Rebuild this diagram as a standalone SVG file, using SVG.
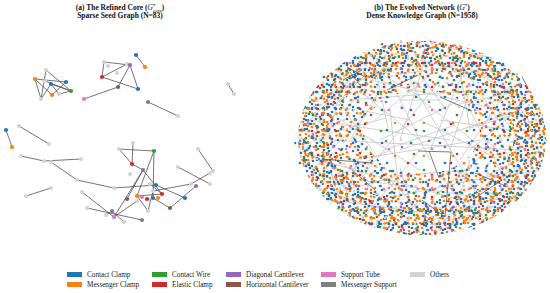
<svg xmlns="http://www.w3.org/2000/svg" width="550" height="293" viewBox="0 0 550 293">
<style>
.t{font-family:"Liberation Serif","Times New Roman",serif;font-weight:bold;font-size:7.5px;fill:#111;text-anchor:middle}
.lg{font-family:"Liberation Serif","Times New Roman",serif;font-size:7.2px;fill:#222}
.cb{fill:#1f77b4}.co{fill:#ff7f0e}.cg{fill:#2ca02c}.cr{fill:#d62728}.cp{fill:#9467bd}.cbr{fill:#8c564b}.cpk{fill:#e377c2}.cgy{fill:#7f7f7f}.cl{fill:#d3d3d3}
.e{stroke:#4a4a4a;stroke-width:0.9;stroke-opacity:0.85}
</style>
<defs>
<pattern id="p1" width="24" height="22" patternUnits="userSpaceOnUse" x="3" y="1">
<circle cx="2" cy="3" r="1.35" class="cb"/><circle cx="9" cy="2" r="1.35" class="co"/><circle cx="15" cy="5" r="1.35" class="cb"/><circle cx="21.5" cy="2.5" r="1.35" class="co"/><circle cx="5" cy="9" r="1.35" class="cl"/><circle cx="12" cy="11" r="1.35" class="co"/><circle cx="19" cy="13" r="1.35" class="cb"/><circle cx="3" cy="16" r="1.35" class="cg"/><circle cx="8" cy="19.5" r="1.35" class="co"/><circle cx="14" cy="18" r="1.35" class="cb"/><circle cx="21" cy="20" r="1.35" class="cr"/><circle cx="17" cy="9" r="1.35" class="cp"/>
</pattern>
<pattern id="p2" width="31" height="27" patternUnits="userSpaceOnUse" x="11" y="7">
<circle cx="3" cy="5" r="1.35" class="co"/><circle cx="10" cy="2" r="1.35" class="cb"/><circle cx="18" cy="7" r="1.35" class="cpk"/><circle cx="26" cy="4" r="1.35" class="cb"/><circle cx="6" cy="13" r="1.35" class="co"/><circle cx="14" cy="15" r="1.35" class="cbr"/><circle cx="22" cy="12" r="1.35" class="co"/><circle cx="28.5" cy="17" r="1.35" class="cb"/><circle cx="2" cy="22" r="1.35" class="cl"/><circle cx="11" cy="24" r="1.35" class="cb"/><circle cx="19" cy="21" r="1.35" class="co"/><circle cx="25" cy="25" r="1.35" class="cl"/>
</pattern>
<pattern id="p3" width="37" height="41" patternUnits="userSpaceOnUse" x="5" y="13">
<circle cx="4" cy="6" r="1.35" class="cb"/><circle cx="15" cy="3" r="1.35" class="co"/><circle cx="27" cy="9" r="1.35" class="cr"/><circle cx="33" cy="2" r="1.35" class="cl"/><circle cx="9" cy="17" r="1.35" class="cg"/><circle cx="21" cy="20" r="1.35" class="cb"/><circle cx="31" cy="23" r="1.35" class="co"/><circle cx="5" cy="30" r="1.35" class="cp"/><circle cx="16" cy="33" r="1.35" class="cbr"/><circle cx="26" cy="36" r="1.35" class="cb"/><circle cx="34" cy="32" r="1.35" class="co"/><circle cx="12" cy="39" r="1.35" class="cpk"/>
</pattern>
<pattern id="p4" width="29" height="33" patternUnits="userSpaceOnUse" x="0" y="4">
<circle cx="5" cy="7" r="1.35" class="cb"/><circle cx="18" cy="20" r="1.35" class="co"/><circle cx="24" cy="4" r="1.35" class="cl"/><circle cx="10" cy="27" r="1.35" class="cb"/>
</pattern>
<pattern id="p5" width="43" height="39" patternUnits="userSpaceOnUse" x="7" y="2">
<circle cx="8" cy="28" r="1.35" class="cp"/><circle cx="30" cy="12" r="1.35" class="cg"/><circle cx="20" cy="35" r="1.35" class="cbr"/><circle cx="38" cy="30" r="1.35" class="cpk"/><circle cx="14" cy="5" r="1.35" class="cr"/><circle cx="35" cy="22" r="1.35" class="cgy"/>
</pattern>
<pattern id="p6" width="19" height="17" patternUnits="userSpaceOnUse" x="2" y="9">
<circle cx="3" cy="3" r="1.35" class="cb"/><circle cx="10" cy="5" r="1.35" class="co"/><circle cx="16" cy="2" r="1.35" class="co"/><circle cx="6" cy="10" r="1.35" class="cb"/><circle cx="14" cy="11" r="1.35" class="cl"/><circle cx="2" cy="15" r="1.35" class="co"/><circle cx="11" cy="15" r="1.35" class="cb"/><circle cx="17" cy="14" r="1.35" class="cg"/>
</pattern>
<pattern id="p7" width="26" height="23" patternUnits="userSpaceOnUse" x="8" y="3">
<circle cx="4" cy="4" r="1.35" class="co"/><circle cx="12" cy="2" r="1.35" class="cb"/><circle cx="20" cy="6" r="1.35" class="co"/><circle cx="24" cy="14" r="1.35" class="cr"/><circle cx="7" cy="12" r="1.35" class="cb"/><circle cx="15" cy="13" r="1.35" class="co"/><circle cx="3" cy="20" r="1.35" class="cp"/><circle cx="19" cy="20" r="1.35" class="cb"/><circle cx="11" cy="21" r="1.35" class="co"/>
</pattern>
<pattern id="p8" width="17" height="21" patternUnits="userSpaceOnUse" x="4" y="6">
<circle cx="3" cy="4" r="1.35" class="co"/><circle cx="11" cy="8" r="1.35" class="cb"/><circle cx="6" cy="15" r="1.35" class="cpk"/><circle cx="14" cy="18" r="1.35" class="cb"/><circle cx="13" cy="2" r="1.35" class="co"/>
</pattern>
<pattern id="p9" width="23" height="29" patternUnits="userSpaceOnUse" x="9" y="12">
<circle cx="4" cy="9" r="1.35" class="cb"/><circle cx="17" cy="3" r="1.35" class="co"/><circle cx="12" cy="18" r="1.35" class="cbr"/><circle cx="20" cy="25" r="1.35" class="co"/><circle cx="3" cy="25" r="1.35" class="cb"/><circle cx="9" cy="2" r="1.35" class="cl"/>
</pattern>
<clipPath id="cAll"><ellipse cx="422" cy="138" rx="124" ry="97"/></clipPath>
<clipPath id="cBig"><ellipse cx="422" cy="138" rx="128" ry="100"/></clipPath>
<clipPath id="cMid"><path clip-rule="evenodd" d="M298,138 a124,97 0 1,0 248,0 a124,97 0 1,0 -248,0 Z M364,132 a58,42 0 1,0 116,0 a58,42 0 1,0 -116,0 Z"/></clipPath>
<clipPath id="cOut"><path clip-rule="evenodd" d="M298,138 a124,97 0 1,0 248,0 a124,97 0 1,0 -248,0 Z M330,136 a92,68 0 1,0 184,0 a92,68 0 1,0 -184,0 Z"/></clipPath>
</defs>
<rect width="550" height="293" fill="#fff"/>

<g id="titles">
<text class="t" x="120" y="9.7">(a) The Refined Core (<tspan font-style="italic" font-weight="normal">G</tspan><tspan font-size="5" dy="-2.6">*</tspan><tspan font-size="5" dx="-2.4" dy="4.4" font-style="italic" font-weight="normal">core</tspan><tspan dy="-1.8">)</tspan></text>
<text class="t" x="120" y="18.3">Sparse Seed Graph (N=83)</text>
<text class="t" x="422" y="9.7">(b) The Evolved Network (<tspan font-style="italic" font-weight="normal">G</tspan><tspan font-size="5" dy="-2.6">*</tspan><tspan dy="2.6">)</tspan></text>
<text class="t" x="422" y="18.3">Dense Knowledge Graph (N=1958)</text>
</g>

<g id="connectors">
<line class="e" x1="46" y1="70" x2="71" y2="91"/><line class="e" x1="46" y1="70" x2="41" y2="99"/><line class="e" x1="35" y1="79" x2="66" y2="82"/><line class="e" x1="35" y1="79" x2="41" y2="99"/><line class="e" x1="35" y1="79" x2="52" y2="95"/><line class="e" x1="45" y1="81" x2="71" y2="91"/><line class="e" x1="51" y1="84" x2="71" y2="91"/><line class="e" x1="51" y1="84" x2="59" y2="94"/><line class="e" x1="66" y1="82" x2="52" y2="95"/><line class="e" x1="41" y1="99" x2="51" y2="84"/><line class="e" x1="59" y1="94" x2="71" y2="91"/>
<line class="e" x1="104" y1="62" x2="130" y2="65"/><line class="e" x1="104" y1="62" x2="102" y2="77"/><line class="e" x1="102" y1="77" x2="127" y2="64"/><line class="e" x1="102" y1="77" x2="138" y2="89"/><line class="e" x1="130" y1="65" x2="118" y2="87"/><line class="e" x1="130" y1="65" x2="138" y2="89"/><line class="e" x1="118" y1="87" x2="84" y2="99"/><line class="e" x1="136" y1="55" x2="145" y2="67"/>
<line class="e" x1="228" y1="84" x2="234" y2="94"/><line class="e" x1="148" y1="102" x2="178" y2="116"/><line class="e" x1="6" y1="130" x2="12" y2="147"/><line class="e" x1="19" y1="126" x2="49" y2="144"/>
<line class="e" x1="21" y1="156" x2="44" y2="161"/><line class="e" x1="44" y1="161" x2="81" y2="159"/><line class="e" x1="51" y1="162" x2="77" y2="180"/><line class="e" x1="77" y1="180" x2="114" y2="188"/><line class="e" x1="26" y1="196" x2="51" y2="188"/>
<line class="e" x1="119" y1="149" x2="154" y2="151"/><line class="e" x1="133" y1="143" x2="132" y2="164"/><line class="e" x1="119" y1="149" x2="132" y2="164"/><line class="e" x1="132" y1="164" x2="143" y2="170"/><line class="e" x1="154" y1="151" x2="137" y2="196"/><line class="e" x1="154" y1="151" x2="153" y2="198"/><line class="e" x1="143" y1="170" x2="127" y2="199"/><line class="e" x1="143" y1="170" x2="162" y2="194"/><line class="e" x1="114" y1="188" x2="156" y2="185"/><line class="e" x1="156" y1="185" x2="185" y2="198"/><line class="e" x1="153" y1="191" x2="191" y2="184"/><line class="e" x1="196" y1="186" x2="170" y2="208"/><line class="e" x1="153" y1="198" x2="170" y2="208"/><line class="e" x1="178" y1="167" x2="210" y2="184"/><line class="e" x1="198" y1="149" x2="213" y2="171"/><line class="e" x1="210" y1="173" x2="191" y2="184"/><line class="e" x1="137" y1="196" x2="162" y2="194"/><line class="e" x1="137" y1="196" x2="148" y2="211"/><line class="e" x1="148" y1="211" x2="153" y2="191"/><line class="e" x1="114" y1="217" x2="137" y2="201"/><line class="e" x1="114" y1="217" x2="143" y2="170"/><line class="e" x1="82" y1="192" x2="114" y2="217"/><line class="e" x1="87" y1="208" x2="142" y2="220"/><line class="e" x1="112" y1="211" x2="124" y2="222"/><line class="e" x1="106" y1="215" x2="112" y2="211"/><line class="e" x1="150" y1="184" x2="162" y2="194"/>
</g>

<g id="sparse-nodes">
<g id="a1"><circle cx="46" cy="70" r="2.1" class="cl"/></g>
<g id="a2"><circle cx="35" cy="79" r="2.1" class="co"/></g>
<g id="a3"><circle cx="45" cy="81" r="2.1" class="cl"/></g>
<g id="a4"><circle cx="51" cy="84" r="2.1" class="cb"/></g>
<g id="a5"><circle cx="66" cy="82" r="2.1" class="cb"/></g>
<g id="a6"><circle cx="71" cy="91" r="2.1" class="cg"/></g>
<g id="a7"><circle cx="59" cy="94" r="2.1" class="cl"/></g>
<g id="a8"><circle cx="52" cy="95" r="2.1" class="co"/></g>
<g id="a9"><circle cx="41" cy="99" r="2.1" class="cl"/></g>
<g id="b1"><circle cx="104" cy="62" r="2.1" class="cl"/></g>
<g id="b2"><circle cx="108" cy="66" r="2.1" class="cl"/></g>
<g id="b3"><circle cx="127" cy="64" r="2.1" class="cl"/></g>
<g id="b4"><circle cx="130" cy="65" r="2.1" class="cp"/></g>
<g id="b5"><circle cx="117" cy="73" r="2.1" class="cl"/></g>
<g id="b6"><circle cx="102" cy="77" r="2.1" class="cr"/></g>
<g id="b7"><circle cx="118" cy="87" r="2.1" class="cbr"/></g>
<g id="b8"><circle cx="138" cy="89" r="2.1" class="cb"/></g>
<g id="b9"><circle cx="84" cy="99" r="2.1" class="cpk"/></g>
<g id="b10"><circle cx="136" cy="55" r="2.1" class="cb"/></g>
<g id="b11"><circle cx="145" cy="67" r="2.1" class="co"/></g>
<g id="c1"><circle cx="228" cy="84" r="2.1" class="cl"/></g>
<g id="c2"><circle cx="234" cy="94" r="2.1" class="cl"/></g>
<g id="d1"><circle cx="148" cy="102" r="2.1" class="cgy"/></g>
<g id="d2"><circle cx="178" cy="116" r="2.1" class="cl"/></g>
<g id="e1"><circle cx="6" cy="130" r="2.1" class="cb"/></g>
<g id="e2"><circle cx="12" cy="147" r="2.1" class="co"/></g>
<g id="f1"><circle cx="19" cy="126" r="2.1" class="cl"/></g>
<g id="f2"><circle cx="49" cy="144" r="2.1" class="cl"/></g>
<g id="g1"><circle cx="21" cy="156" r="2.1" class="cl"/></g>
<g id="g2"><circle cx="44" cy="161" r="2.1" class="cl"/></g>
<g id="g3"><circle cx="81" cy="159" r="2.1" class="cl"/></g>
<g id="g4"><circle cx="51" cy="162" r="2.1" class="cl"/></g>
<g id="g5"><circle cx="77" cy="180" r="2.1" class="cl"/></g>
<g id="g6"><circle cx="114" cy="188" r="2.1" class="cl"/></g>
<g id="h1"><circle cx="26" cy="196" r="2.1" class="cl"/></g>
<g id="h2"><circle cx="51" cy="188" r="2.1" class="cl"/></g>
<g id="k1"><circle cx="133" cy="143" r="2.1" class="cl"/></g>
<g id="k2"><circle cx="119" cy="149" r="2.1" class="cl"/></g>
<g id="k3"><circle cx="154" cy="151" r="2.1" class="cg"/></g>
<g id="k4"><circle cx="132" cy="164" r="2.1" class="cr"/></g>
<g id="k5"><circle cx="130" cy="174" r="2.1" class="cl"/></g>
<g id="k6"><circle cx="143" cy="170" r="2.1" class="cp"/></g>
<g id="k8"><circle cx="150" cy="184" r="2.1" class="cl"/></g>
<g id="k9"><circle cx="156" cy="185" r="2.1" class="cb"/></g>
<g id="k10"><circle cx="153" cy="191" r="2.1" class="cl"/></g>
<g id="k11"><circle cx="162" cy="194" r="2.1" class="cr"/></g>
<g id="k12"><circle cx="158" cy="198" r="2.1" class="co"/></g>
<g id="k13"><circle cx="153" cy="198" r="2.1" class="cb"/></g>
<g id="k14"><circle cx="147" cy="199" r="2.1" class="cr"/></g>
<g id="k15"><circle cx="142" cy="197" r="2.1" class="cpk"/></g>
<g id="k16"><circle cx="137" cy="196" r="2.1" class="co"/></g>
<g id="k17"><circle cx="127" cy="199" r="2.1" class="cbr"/></g>
<g id="k18"><circle cx="137" cy="201" r="2.1" class="cl"/></g>
<g id="k19"><circle cx="148" cy="211" r="2.1" class="cl"/></g>
<g id="k20"><circle cx="170" cy="208" r="2.1" class="cbr"/></g>
<g id="k21"><circle cx="185" cy="198" r="2.1" class="cb"/></g>
<g id="k23"><circle cx="191" cy="184" r="2.1" class="cl"/></g>
<g id="k22"><circle cx="196" cy="186" r="2.1" class="cp"/></g>
<g id="k24"><circle cx="178" cy="167" r="2.1" class="cl"/></g>
<g id="k25"><circle cx="210" cy="184" r="2.1" class="cl"/></g>
<g id="k26"><circle cx="198" cy="149" r="2.1" class="cl"/></g>
<g id="k27"><circle cx="213" cy="171" r="2.1" class="cl"/></g>
<g id="k28"><circle cx="210" cy="173" r="2.1" class="cl"/></g>
<g id="k29"><circle cx="82" cy="192" r="2.1" class="cl"/></g>
<g id="k30"><circle cx="87" cy="208" r="2.1" class="cl"/></g>
<g id="k33"><circle cx="106" cy="215" r="2.1" class="cl"/></g>
<g id="k31"><circle cx="112" cy="211" r="2.1" class="cgy"/></g>
<g id="k32"><circle cx="114" cy="217" r="2.1" class="cpk"/></g>
<g id="k34"><circle cx="124" cy="222" r="2.1" class="cl"/></g>
<g id="k35"><circle cx="142" cy="220" r="2.1" class="cgy"/></g>
</g>

<g id="dense-network">
<g id="dense-edges" stroke="#c2c2c2" stroke-width="0.75" fill="none" clip-path="url(#cAll)">
<path d="M318,100L402,62M330,88L372,150M305,140L386,118M312,170L360,120M322,196L398,176M340,210L362,150M356,60L420,96M372,52L388,128M400,46L446,110M430,44L400,140M452,50L498,120M470,56L430,150M490,70L536,130M510,86L460,160M530,110L470,128M540,150L478,180M530,180L486,140M510,206L452,168M480,222L440,176M450,230L470,160M420,233L400,168M390,230L430,190M360,222L420,150M330,200L420,212M310,120L450,140M330,140L520,150M350,100L480,90M370,80L500,110M390,110L400,200M410,80L480,200M440,80L360,180M460,100L380,140M480,140L350,160M500,160L420,120M360,180L500,200M380,200L520,170M340,120L420,170M440,120L510,130M300,150L340,170M345,75L330,130M420,60L500,80M400,100L440,100M350,140L380,90M470,110L520,210M320,160L460,200M400,150L520,110M430,160L380,60M460,70L470,130M480,180L540,170M500,60L450,48M380,170L440,230M300,130L360,70M490,200L420,225M330,180L390,150M410,120L360,110M450,150L470,90M520,140L490,100M355,200L310,150M395,75L460,65M430,200L500,140M365,95L420,140M385,150L455,125M405,175L470,170M355,165L395,215M445,185L495,225M470,150L535,95M375,120L430,75M415,95L485,150M340,100L375,65M500,95L455,105M390,60L345,110M430,225L470,215M310,185L365,205M525,190L505,150M480,75L525,100M350,230L330,170"/>
</g>
<rect x="292" y="36" width="258" height="205" fill="url(#p4)" clip-path="url(#cBig)"/>
<rect x="292" y="36" width="258" height="205" fill="url(#p5)" clip-path="url(#cAll)"/>
<rect x="292" y="36" width="258" height="205" fill="url(#p1)" clip-path="url(#cMid)"/>
<rect x="292" y="36" width="258" height="205" fill="url(#p8)" clip-path="url(#cMid)"/>
<rect x="292" y="36" width="258" height="205" fill="url(#p2)" clip-path="url(#cMid)"/>
<rect x="292" y="36" width="258" height="205" fill="url(#p3)" clip-path="url(#cOut)"/>
<rect x="292" y="36" width="258" height="205" fill="url(#p6)" clip-path="url(#cOut)"/>
<rect x="292" y="36" width="258" height="205" fill="url(#p7)" clip-path="url(#cOut)"/>
<rect x="292" y="36" width="258" height="205" fill="url(#p9)" clip-path="url(#cOut)"/>
<g id="dense-dark-edges" stroke="#555" stroke-width="0.9" stroke-opacity="0.85">
<path d="M387,90L418,75M347,67L365,77M350,72L360,85M343,80L362,70M440,97L472,111M522,77L528,88M418,151L451,152M429,151L439,178M451,152L445,217M322,159L372,163M352,170L375,190M422,200L445,217M475,198L502,180M475,173L508,187"/>
</g>
</g>

<g id="legend">
<rect x="67" y="272" width="15" height="5" class="cb"/><text class="lg" x="87" y="277">Contact Clamp</text>
<rect x="67" y="282" width="15" height="5" class="co"/><text class="lg" x="87" y="287">Messenger Clamp</text>
<rect x="152" y="272" width="15" height="5" class="cg"/><text class="lg" x="172" y="277">Contact Wire</text>
<rect x="152" y="282" width="15" height="5" class="cr"/><text class="lg" x="172" y="287">Elastic Clamp</text>
<rect x="226" y="272" width="15" height="5" class="cp"/><text class="lg" x="246" y="277">Diagonal Cantilever</text>
<rect x="226" y="282" width="15" height="5" class="cbr"/><text class="lg" x="246" y="287">Horizontal Cantilever</text>
<rect x="321" y="272" width="15" height="5" class="cpk"/><text class="lg" x="341" y="277">Support Tube</text>
<rect x="321" y="282" width="15" height="5" class="cgy"/><text class="lg" x="341" y="287">Messenger Support</text>
<rect x="410" y="272" width="15" height="5" class="cl"/><text class="lg" x="430" y="277">Others</text>
</g>
</svg>
